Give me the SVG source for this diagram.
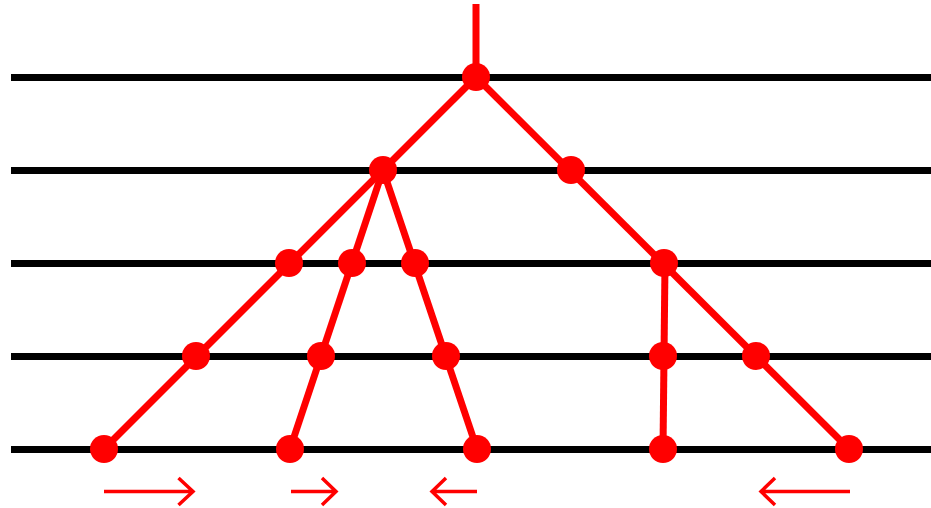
<svg xmlns="http://www.w3.org/2000/svg" width="931" height="508" viewBox="0 0 931 508">
<defs>
<style>
.rail{stroke:#000;stroke-width:7;fill:none}
.edge{stroke:#ff0000;stroke-width:7;fill:none;stroke-linecap:butt}
.node{fill:#ff0000}
.arr{stroke:#ff0000;stroke-width:3.5;fill:none}
</style>
</defs>
<g id="rails">
<path class="rail" d="M11,77.5H931M11,170.5H931M11,263.5H931M11,356.5H931M11,449.5H931"/>
</g>
<g id="connectors">
<line class="edge" x1="476" y1="4" x2="476" y2="77"/>
<line class="edge" x1="476" y1="77" x2="104" y2="449"/>
<line class="edge" x1="383" y1="170" x2="290" y2="449"/>
<line class="edge" x1="383" y1="170" x2="477" y2="449"/>
<line class="edge" x1="476" y1="77" x2="849" y2="449"/>
<line class="edge" x1="665" y1="263" x2="663" y2="449"/>
</g>
<g id="n1"><circle class="node" cx="476" cy="77" r="14"/></g>
<g id="n2"><circle class="node" cx="383" cy="170" r="14"/></g>
<g id="n3"><circle class="node" cx="571" cy="170" r="14"/></g>
<g id="n4"><circle class="node" cx="289" cy="263" r="14"/></g>
<g id="n5"><circle class="node" cx="352" cy="263" r="14"/></g>
<g id="n6"><circle class="node" cx="415" cy="263" r="14"/></g>
<g id="n7"><circle class="node" cx="664" cy="263" r="14"/></g>
<g id="n8"><circle class="node" cx="196" cy="356" r="14"/></g>
<g id="n9"><circle class="node" cx="321" cy="356" r="14"/></g>
<g id="n10"><circle class="node" cx="446" cy="356" r="14"/></g>
<g id="n11"><circle class="node" cx="663" cy="356" r="14"/></g>
<g id="n12"><circle class="node" cx="756" cy="356" r="14"/></g>
<g id="n13"><circle class="node" cx="104" cy="449" r="14"/></g>
<g id="n14"><circle class="node" cx="290" cy="449" r="14"/></g>
<g id="n15"><circle class="node" cx="477" cy="449" r="14"/></g>
<g id="n16"><circle class="node" cx="663" cy="449" r="14"/></g>
<g id="n17"><circle class="node" cx="849" cy="449" r="14"/></g>
<g id="arrows">
<path class="arr" d="M104,491.5H193M178.5,478L193,491.5L178.5,505"/>
<path class="arr" d="M291,491.5H336M322,478L336,491.5L322,505"/>
<path class="arr" d="M477,491.5H432M446,478L432,491.5L446,505"/>
<path class="arr" d="M850,491.5H761M775,478L761,491.5L775,505"/>
</g>
</svg>
